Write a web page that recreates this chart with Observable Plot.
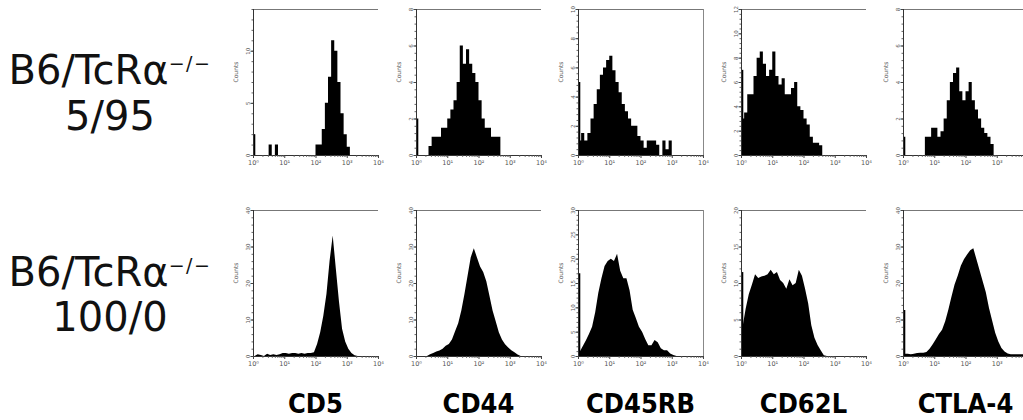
<!DOCTYPE html>
<html>
<head>
<meta charset="utf-8">
<script src="https://cdn.jsdelivr.net/npm/d3@7"></script>
<script src="https://cdn.jsdelivr.net/npm/@observablehq/plot@0.6"></script>
<style>
  html, body { margin: 0; padding: 0; background: #fff; }
  body { width: 1023px; height: 420px; overflow: hidden; position: relative; font-family: "DejaVu Sans", sans-serif; }
  .rowlab { position: absolute; font-family: "DejaVu Sans", sans-serif; font-size: 40px; line-height: 40px; color: #111; white-space: nowrap; transform: translateX(-50%); }
  .rowlab sup { font-size: 19px; letter-spacing: 1.5px; vertical-align: baseline; position: relative; top: -14px; }
  .collab { position: absolute; font-family: "DejaVu Sans Condensed", "DejaVu Sans", sans-serif; font-stretch: condensed; font-weight: bold; font-size: 27px; line-height: 27px; color: #000; white-space: nowrap; transform: translateX(-50%); }
</style>
</head>
<body>
<script>
// ---------- data ----------
const markers = ["CD5", "CD44", "CD45RB", "CD62L", "CTLA-4"];
const genotype = "B6/TcRα";
const genotypeSup = "−/−";
const ratios = ["5/95", "100/0"];

const xTicks = [1, 10, 100, 1000, 10000];
const xTickLabels = ["10⁰", "10¹", "10²", "10³", "10⁴"];
const binDecades = 0.1; // each count below covers 0.1 decade, starting at 10^0

const yMaxTop = [14, 8, 10, 12, 8];
const yMaxBottom = [40, 40, 30, 20, 40];
const yTicksTop = [[0, 5, 10], [0, 2, 4, 6, 8], [0, 2, 4, 6, 8, 10], [0, 2, 4, 6, 8, 10, 12], [0, 2, 4, 6, 8]];
const yTicksBottom = [[0, 10, 20, 30, 40], [0, 10, 20, 30, 40], [0, 5, 10, 15, 20, 25, 30], [0, 5, 10, 15, 20], [0, 10, 20, 30, 40]];

// events piled in the first channel (thin spike at 10^0)
const spikeTop = [2, 2, 5, 7, 1];
const spikeBottom = [0, 0, 17, 11.5, 12.6];

// row 1: B6/TcRα-/- 5/95
const topCD5 = [0, 0, 0, 0, 0, 1, 0, 1, 0, 0, 0, 0, 0, 0, 0, 0, 0, 0, 0, 0, 1, 1, 2.5, 5, 7.5, 11, 10, 7, 4, 2, 0.8, 0];
const topCD44 = [0, 0, 0, 0, 0.5, 1, 1, 1, 1.5, 1.5, 2, 2.5, 3, 4, 6, 5, 5.8, 5, 4.5, 4, 3, 2, 1.5, 1.5, 1, 1, 1, 0];
const topCD45RB = [1, 1.5, 1, 1.5, 2.5, 3.5, 4.5, 5.5, 6, 6.5, 6.8, 5.8, 5, 4.3, 3.5, 3, 2.5, 2, 2, 1.3, 1, 0.5, 1, 1, 1, 0.7, 0, 1, 0.4, 1, 0];
const topCD62L = [3, 3.5, 5, 5, 6.5, 8, 8.5, 7.5, 6.5, 7, 8.5, 6.5, 5.8, 6.3, 5, 5, 5.5, 6, 4, 3.7, 3, 2.5, 1.5, 1, 1, 0.8, 0];
const topCTLA4 = [0, 0, 0, 0, 0, 0, 0, 1, 1, 1.5, 1.5, 1, 1.3, 2, 3, 4, 4.5, 4.8, 3.5, 3, 3.5, 4, 3, 2.5, 2, 1.5, 1.2, 1, 0.6, 0];

// row 2: B6/TcRα-/- 100/0
const botCD5 = [0, 0.5, 0.3, 0, 0.6, 0.3, 0.5, 0.3, 0.5, 0.8, 0.8, 0.6, 0.8, 0.8, 0.6, 0.8, 0.6, 0.8, 0.8, 1, 3.3, 6.5, 11, 17, 26, 33, 24, 15, 7.5, 4, 2, 0.8, 0.2, 0];
const botCD44 = [0, 0, 0, 0, 0.5, 0.8, 1.2, 1.5, 2, 2.8, 3.3, 4.5, 6.8, 9, 12.5, 17, 22, 27, 29.5, 27, 24.5, 23, 20.5, 16.5, 12.5, 9.5, 6.5, 4.5, 3.2, 2.3, 1.6, 1, 0.4, 0];
const botCD45RB = [0.8, 2, 3.2, 4.5, 6, 9, 13, 16, 18.5, 19.5, 20, 19.5, 21, 17.5, 16, 16, 13.5, 9.5, 7.8, 6, 5, 3.5, 2.2, 2.2, 3.3, 2.8, 1.6, 1.2, 1.2, 0.5, 0.2, 0];
const botCD62L = [4, 6.5, 8.5, 9.8, 11.2, 10.7, 10.9, 11, 11.2, 11.8, 11.2, 11.5, 10.4, 10, 9.2, 10.5, 9.7, 10, 11.8, 11, 9.2, 7.2, 4.2, 2.5, 1.5, 0.8, 0.1, 0];
const botCTLA4 = [0.6, 0.6, 0.5, 0.6, 0.8, 0.9, 0.9, 1.1, 2, 3.2, 4.6, 6, 7.2, 9.5, 12.7, 16.2, 19.6, 22, 24.7, 26.5, 27.8, 29, 29.5, 26.5, 23.5, 20.5, 17.5, 13.2, 9.8, 6.4, 4, 2.2, 1.2, 0.7, 0.5, 0.5, 0.5, 0.5, 0.5, 0.5];

const countsTop = [topCD5, topCD44, topCD45RB, topCD62L, topCTLA4];
const countsBottom = [botCD5, botCD44, botCD45RB, botCD62L, botCTLA4];
const rightBorder = [false, false, true, false, false];

// ---------- layout ----------
const colLeft = [253, 416, 578, 741, 903];
const rowTop = [9, 210];
const plotW = 125, plotH = 146;
const mL = 34, mR = 4, mT = 6, mB = 16;

const minorX = [];
for (let k = 0; k < 4; k++) for (let m = 2; m <= 9; m++) minorX.push(m * Math.pow(10, k));

function panel(r, c) {
  const counts = r === 0 ? countsTop[c] : countsBottom[c];
  const ymax = r === 0 ? yMaxTop[c] : yMaxBottom[c];
  const yt = r === 0 ? yTicksTop[c] : yTicksBottom[c];
  const spike = r === 0 ? spikeTop[c] : spikeBottom[c];
  const step = yt[1] - yt[0];
  const minorY = d3.range(0, ymax + 1e-9, step / 5);
  let data;
  if (r === 0) {
    data = counts.map((v, i) => ({x: Math.pow(10, i * binDecades), y: v}));
    data.push({x: Math.pow(10, counts.length * binDecades), y: 0});
  } else {
    data = counts.map((v, i) => ({x: Math.pow(10, (i + 0.5) * binDecades), y: v}));
  }
  const svg = Plot.plot({
    width: plotW + mL + mR,
    height: plotH + mT + mB,
    marginLeft: mL, marginRight: mR, marginTop: mT, marginBottom: mB,
    x: {type: "log", domain: [1, 1e4], axis: null, label: null},
    y: {domain: [0, ymax], axis: null, label: null},
    style: {background: "transparent", overflow: "visible", fontFamily: "DejaVu Sans"},
    marks: [
      Plot.areaY(data, {x: "x", y: "y", curve: r === 0 ? "step-after" : "linear", fill: "#000"}),
      spike > 0 ? Plot.ruleX([spike], {x: () => 1, y1: 0, y2: d => d, dx: 1, stroke: "#000", strokeWidth: 1.6}) : null,
      Plot.ruleY([ymax], {stroke: "#777", strokeWidth: 1.2}),
      rightBorder[c] ? Plot.ruleX([1e4], {stroke: "#888", strokeWidth: 1}) : null,
      Plot.ruleX([1], {stroke: "#333", strokeWidth: 1}),
      Plot.ruleY([0], {stroke: "#333", strokeWidth: 1}),
      Plot.axisX(minorX, {tickSize: 1.8, tickFormat: () => "", stroke: "#555", label: null}),
      Plot.axisX(xTicks, {tickSize: 3, tickPadding: 1.5, tickFormat: d => xTickLabels[xTicks.indexOf(d)], fontSize: 6.5, color: "#555", stroke: "#444", label: null}),
      Plot.axisY(minorY, {tickSize: 1.5, tickFormat: () => "", stroke: "#666", label: null}),
      Plot.axisY(yt, {tickSize: 2.5, tickFormat: () => "", stroke: "#444", label: null}),
      Plot.text(yt, {x: () => 1, y: d => d, text: d => String(d), rotate: -90, dx: -5, fontSize: 5.5, fill: "#555"}),
      Plot.text(["Counts"], {frameAnchor: "left", text: d => d, rotate: -90, dx: -17, fontSize: 6, fill: "#555"})
    ]
  });
  svg.style.position = "absolute";
  svg.style.left = (colLeft[c] - mL) + "px";
  svg.style.top = (rowTop[r] - mT) + "px";
  svg.style.maxWidth = "none";
  document.body.appendChild(svg);
}

for (let r = 0; r < 2; r++) for (let c = 0; c < 5; c++) panel(r, c);

// row labels
const rowLineTops = [[50, 96], [252, 297]];
ratios.forEach((ratio, r) => {
  const a = document.createElement("div");
  a.className = "rowlab";
  a.style.left = "110px";
  a.style.top = rowLineTops[r][0] + "px";
  a.innerHTML = genotype + "<sup>" + genotypeSup + "</sup>";
  document.body.appendChild(a);
  const b = document.createElement("div");
  b.className = "rowlab";
  b.style.left = "110px";
  b.style.top = rowLineTops[r][1] + "px";
  b.textContent = ratio;
  document.body.appendChild(b);
});

// column labels
markers.forEach((m, c) => {
  const d = document.createElement("div");
  d.className = "collab";
  d.style.left = (colLeft[c] + plotW / 2) + "px";
  d.style.top = "390px";
  d.textContent = m;
  document.body.appendChild(d);
});
</script>
</body>
</html>
